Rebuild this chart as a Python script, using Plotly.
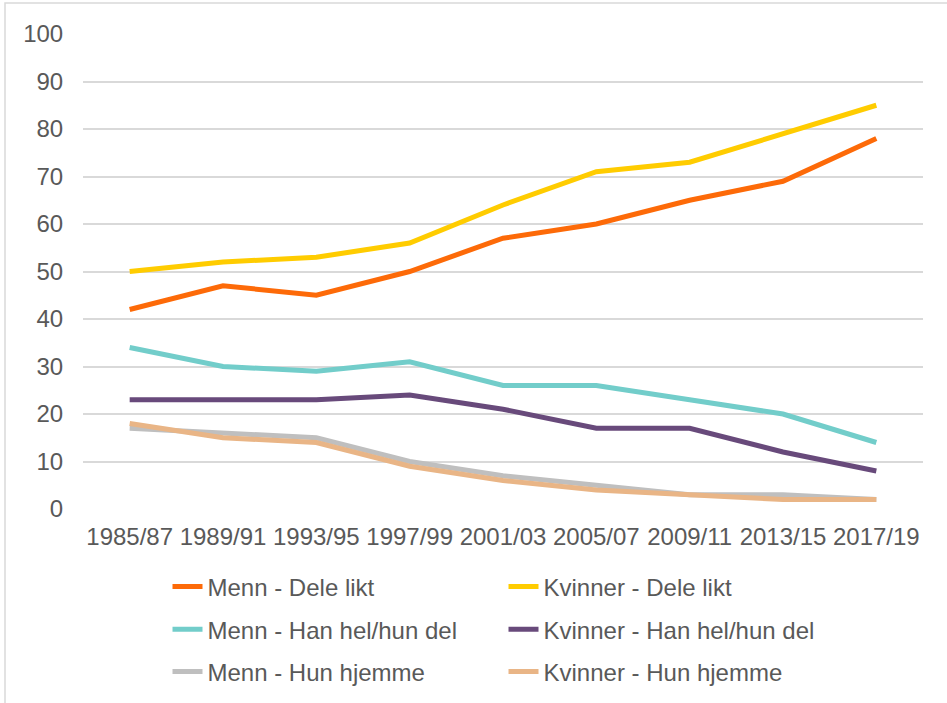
import plotly.graph_objects as go

categories = ["1985/87", "1989/91", "1993/95", "1997/99", "2001/03",
              "2005/07", "2009/11", "2013/15", "2017/19"]

menn_dele_likt = [42, 47, 45, 50, 57, 60, 65, 69, 78]
kvinner_dele_likt = [50, 52, 53, 56, 64, 71, 73, 79, 85]
menn_han_hel = [34, 30, 29, 31, 26, 26, 23, 20, 14]
kvinner_han_hel = [23, 23, 23, 24, 21, 17, 17, 12, 8]
menn_hun_hjemme = [17, 16, 15, 10, 7, 5, 3, 3, 2]
kvinner_hun_hjemme = [18, 15, 14, 9, 6, 4, 3, 2, 2]

series = [
    ("Menn - Dele likt", menn_dele_likt, "#FD6A08", "legend"),
    ("Kvinner - Dele likt", kvinner_dele_likt, "#FFCC00", "legend"),
    ("Menn - Han hel/hun del", menn_han_hel, "#72CDCA", "legend2"),
    ("Kvinner - Han hel/hun del", kvinner_han_hel, "#684A7B", "legend2"),
    ("Menn - Hun hjemme", menn_hun_hjemme, "#BFBFBF", "legend3"),
    ("Kvinner - Hun hjemme", kvinner_hun_hjemme, "#E9B586", "legend3"),
]

fig = go.Figure()
for name, vals, color, lg in series:
    fig.add_trace(go.Scatter(
        x=categories, y=vals, name=name, mode="lines",
        line=dict(color=color, width=5),
        legend=lg,
    ))

font_family = "Liberation Sans, Arial, sans-serif"
txt_color = "#595959"
fsize = 24

legend_common = dict(
    orientation="h",
    xanchor="left",
    yanchor="middle",
    x=0.1006,
    entrywidth=291,
    entrywidthmode="pixels",
    font=dict(family=font_family, size=fsize, color=txt_color),
    bgcolor="rgba(0,0,0,0)",
    itemclick=False,
    itemdoubleclick=False,
)

fig.update_layout(
    width=947,
    height=703,
    margin=dict(l=83, r=24, t=34, b=194, autoexpand=False),
    paper_bgcolor="white",
    plot_bgcolor="white",
    font=dict(family=font_family, size=fsize, color=txt_color),
    showlegend=True,
    legend=dict(legend_common, y=-0.164),
    legend2=dict(legend_common, y=-0.254),
    legend3=dict(legend_common, y=-0.343),
    xaxis=dict(
        type="category",
        range=[-0.5, len(categories) - 0.5],
        showgrid=False,
        showline=False,
        zeroline=False,
        ticks="outside",
        ticklen=6,
        tickcolor="rgba(0,0,0,0)",
        tickfont=dict(family=font_family, size=fsize, color=txt_color),
        automargin=False,
        fixedrange=True,
    ),
    yaxis=dict(
        range=[0, 100],
        tickvals=[0, 10, 20, 30, 40, 50, 60, 70, 80, 90, 100],
        showgrid=True,
        gridcolor="#D9D9D9",
        gridwidth=2,
        zeroline=False,
        showline=False,
        ticks="outside",
        ticklen=14,
        tickcolor="rgba(0,0,0,0)",
        tickfont=dict(family=font_family, size=fsize, color=txt_color),
        automargin=False,
        fixedrange=True,
    ),
    shapes=[
        dict(type="rect", xref="paper", yref="paper",
             x0=(5 - 83) / 840, x1=1.2, y0=-0.6, y1=(509 - 3) / 475,
             line=dict(color="#D9D9D9", width=1.5), fillcolor="rgba(0,0,0,0)",
             layer="below"),
    ],
)

fig.write_html(
    "out.html",
    config={"displayModeBar": False},
    post_script="document.body.style.margin='0';document.body.style.overflow='hidden';",
)
